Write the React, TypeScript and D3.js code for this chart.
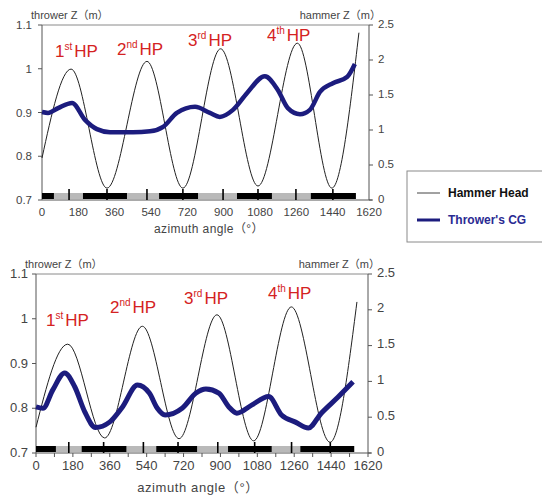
import React from 'react';
import * as d3 from 'd3';

// azimuth ticks and axis labels
const xTickValues = [0, 180, 360, 540, 720, 900, 1080, 1260, 1440, 1620];
const leftTickValues = [0.7, 0.8, 0.9, 1, 1.1];
const rightTickValues = [0, 0.5, 1, 1.5, 2, 2.5];
const hpNumbers = ['1', '2', '3', '4'];
const hpSuffixes = ['st', 'nd', 'rd', 'th'];

// upper panel : [azimuth, Z]
const hammerTop = [
  [0, 0.6], [144, 1.87], [322, 0.17], [520, 1.98], [698, 0.17],
  [885, 2.16], [1070, 0.2], [1265, 2.24], [1436, 0.17], [1570, 2.39]
];
const throwerTop = [
  [0, 0.901], [30, 0.899], [80, 0.91], [149, 0.922], [213, 0.883], [272, 0.862],
  [337, 0.855], [450, 0.855], [535, 0.857], [600, 0.867], [668, 0.899], [758, 0.913],
  [832, 0.899], [881, 0.89], [946, 0.906], [1015, 0.944], [1104, 0.983], [1169, 0.951],
  [1218, 0.91], [1278, 0.896], [1327, 0.906], [1377, 0.947], [1441, 0.967],
  [1511, 0.981], [1550, 1.011]
];
const supportTop = [[0, 59], [203, 421], [580, 773], [966, 1139], [1332, 1555]];
const markTop = [134, 322, 520, 698, 897, 1070, 1258, 1441];

// lower panel
const hammerBottom = [
  [0, 0.36], [155, 1.52], [335, 0.21], [519, 1.77], [698, 0.2],
  [883, 1.93], [1062, 0.17], [1246, 2.04], [1435, 0.15], [1566, 2.11]
];
const throwerBottom = [
  [0, 0.803], [34, 0.8], [82, 0.841], [140, 0.879], [189, 0.848], [238, 0.792],
  [290, 0.757], [359, 0.769], [422, 0.803], [495, 0.852], [553, 0.834], [592, 0.8],
  [630, 0.785], [713, 0.8], [781, 0.834], [829, 0.843], [892, 0.834], [941, 0.803],
  [980, 0.789], [1052, 0.807], [1135, 0.826], [1198, 0.785], [1266, 0.769],
  [1329, 0.756], [1392, 0.789], [1474, 0.825], [1547, 0.859]
];
const supportBottom = [[0, 97], [223, 441], [587, 786], [937, 1150], [1290, 1552]];
const markBottom = [160, 330, 524, 693, 887, 1067, 1247, 1436];
const supportEnd = 1555;

const FONT = '"Liberation Sans", Arial, "Noto Sans CJK JP", sans-serif';
const NAVY = '#1c1c7e';
const RED = '#d42222';

const Panel = ({ cfg, hammer, thrower, support, marks, end }: any) => {
  const x = d3.scaleLinear().domain([0, 1620]).range([cfg.left, cfg.right]);
  const yL = d3.scaleLinear().domain([0.7, 1.1]).range([cfg.bottom, cfg.top]);
  const yR = d3.scaleLinear().domain([0, 2.5]).range([cfg.bottom, cfg.top]);

  const hammerLine: any = d3.line()
    .x((d: any) => x(d[0]))
    .y((d: any) => yR(d[1]))
    .curve(d3.curveMonotoneX);
  const throwerLine: any = d3.line()
    .x((d: any) => x(d[0]))
    .y((d: any) => yL(d[1]))
    .curve(d3.curveMonotoneX);

  const barY = cfg.bottom - 7;
  const fs = cfg.fs;

  return (
    <g fontFamily={FONT}>
      {/* frame */}
      <line x1={cfg.left} x2={cfg.right} y1={cfg.top} y2={cfg.top} stroke="#8a8a8a" />
      <line x1={cfg.left} x2={cfg.left} y1={cfg.top} y2={cfg.bottom} stroke="#555" />
      <line x1={cfg.right} x2={cfg.right} y1={cfg.top} y2={cfg.bottom} stroke="#555" />
      <line x1={cfg.left} x2={cfg.right + 3} y1={cfg.bottom} y2={cfg.bottom} stroke="#555" />

      {/* support phase strip */}
      <rect x={x(0)} y={barY} width={x(end) - x(0)} height={6} fill="#b9b9b9" />
      {support.map((s: any, i: number) => (
        <rect key={'s' + i} x={x(s[0])} y={barY} width={x(s[1]) - x(s[0])} height={6} fill="#000" />
      ))}
      {marks.map((m: number, i: number) => (
        <line key={'m' + i} x1={x(m)} x2={x(m)} y1={barY - 4} y2={cfg.bottom} stroke="#000" strokeWidth={1.6} />
      ))}

      {/* x ticks */}
      {cfg.minor && d3.range(0, 1621, 90).map((v: number) => (
        <line key={'xt' + v} x1={x(v)} x2={x(v)} y1={cfg.bottom} y2={cfg.bottom + 4} stroke="#555" />
      ))}
      {xTickValues.map((v) => (
        <text key={'xl' + v} x={x(v)} y={cfg.bottom + cfg.xLabDy} textAnchor="middle" fontSize={fs} fill="#444">{v}</text>
      ))}
      <text x={cfg.titleX} y={cfg.bottom + cfg.titleDy} textAnchor="middle" fontSize={cfg.titleFs}
        letterSpacing={cfg.titleLs} fill="#444">azimuth angle（°）</text>

      {/* left axis */}
      {leftTickValues.map((v) => (
        <g key={'yl' + v}>
          <line x1={cfg.left - 4} x2={cfg.left} y1={yL(v)} y2={yL(v)} stroke="#555" />
          <text x={cfg.left - cfg.lOff} y={yL(v) + 4} textAnchor="end" fontSize={fs} fill="#444">{String(v)}</text>
        </g>
      ))}
      <text x={cfg.left - 11} y={cfg.top - 6} fontSize={11} fill="#444">thrower Z（m）</text>

      {/* right axis */}
      {rightTickValues.map((v) => (
        <g key={'yr' + v}>
          <line x1={cfg.right} x2={cfg.right + 4} y1={yR(v)} y2={yR(v)} stroke="#555" />
          <text x={cfg.right + 9} y={yR(v) + 2.5} fontSize={fs} fill="#444">{String(v)}</text>
        </g>
      ))}
      <text x={cfg.right + 12} y={cfg.top - 6} textAnchor="end" fontSize={11} fill="#444">hammer Z（m）</text>

      {/* curves */}
      <path d={hammerLine(hammer)} fill="none" stroke="#222" strokeWidth={1} />
      <path d={throwerLine(thrower)} fill="none" stroke={NAVY} strokeWidth={cfg.cgW} strokeLinejoin="round" />

      {/* HP labels */}
      {hpNumbers.map((n, i) => (
        <text key={'hp' + i} x={cfg.hp[i][0]} y={cfg.hp[i][1]} fill={RED} fontSize={17}>
          {n}
          <tspan fontSize={10} dy={-7}>{hpSuffixes[i]}</tspan>
          <tspan dy={7} dx={2}>HP</tspan>
        </text>
      ))}
    </g>
  );
};

const topCfg = {
  left: 42, right: 369, top: 25, bottom: 200, fs: 11.5, titleFs: 12, titleLs: 0.4, minor: false,
  xLabDy: 16, titleX: 209, titleDy: 33, lOff: 10, cgW: 4.5,
  hp: [[55, 57], [117, 55], [188, 46], [267, 41]]
};
const bottomCfg = {
  left: 36, right: 368, top: 274, bottom: 453, fs: 13, titleFs: 13, titleLs: 0.6, minor: true,
  xLabDy: 17, titleX: 198, titleDy: 39, lOff: 8, cgW: 5,
  hp: [[46, 326], [110, 313], [184, 304], [268, 299]]
};

const App = () => {
  return (
    <svg width={542} height={497} style={{ position: 'absolute', left: 0, top: 0, background: '#fff' }}>
      <Panel cfg={topCfg} hammer={hammerTop} thrower={throwerTop} support={supportTop} marks={markTop} end={supportEnd} />
      <Panel cfg={bottomCfg} hammer={hammerBottom} thrower={throwerBottom} support={supportBottom} marks={markBottom} end={supportEnd} />

      {/* legend */}
      <g fontFamily={FONT}>
        <rect x={407} y={171} width={160} height={71} fill="#fff" stroke="#8a8a8a" />
        <line x1={417} x2={440} y1={193} y2={193} stroke="#444" strokeWidth={1} />
        <text x={448} y={197} fontSize={12} fontWeight="bold" fill="#111">Hammer Head</text>
        <line x1={417} x2={440} y1={220} y2={220} stroke={NAVY} strokeWidth={3} />
        <text x={448} y={224} fontSize={12} fontWeight="bold" fill="#2a2a92">Thrower's CG</text>
      </g>
    </svg>
  );
};

export default App;
